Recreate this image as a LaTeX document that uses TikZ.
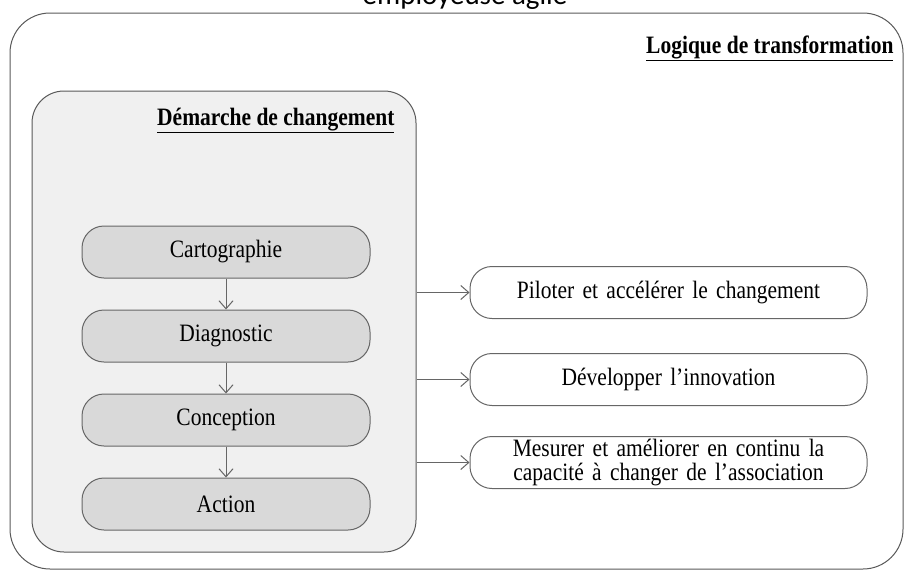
\documentclass[tikz,border=0pt]{standalone}
\usepackage{fontspec}
\setmainfont{Liberation Serif}[FakeStretch=0.86]
\newfontfamily\titrefont{Carlito}
\usetikzlibrary{arrows.meta,calc,positioning}
\pgfdeclarelayer{background}
\pgfsetlayers{background,main}
\newcommand{\taille}{\fontsize{25}{24}\selectfont}
\tikzstyle{cadre}=[draw=black!65, line width=1pt, rounded corners=40pt, inner sep=0pt]
\tikzstyle{etape}=[draw=black!60, fill=black!15, line width=1pt, text centered,
  minimum width=288pt, minimum height=52pt, rounded corners=22pt, inner sep=0pt]
\tikzstyle{objectif}=[etape, fill=white, minimum width=397pt, text width=390pt, align=center]
\tikzstyle{titre}=[anchor=base east, font=\taille\bfseries]
\tikzstyle{line}=[draw, line width=1pt, color=black!60,
  -{Straight Barb[length=8pt,width=14pt]}]
\newcommand{\etape}[2]{node (e#1) [etape] {#2}}

\begin{document}
\begin{tikzpicture}[x=1pt, y=-1pt, font=\taille, node distance=31pt]
  \useasboundingbox (0,0) rectangle (909,570);

  % Titre (coupe en haut)
  \node (titre) [font=\titrefont\fontsize{29}{30}\selectfont, anchor=base] at (465,5) {employeuse agile};

  % Cadres
  \node (transfo) [cadre, minimum width=893pt, minimum height=556pt] at (456.5,291) {};
  \node (demarche) [cadre, fill=black!6, rounded corners=32pt,
    minimum width=384pt, minimum height=461pt] at (224,321.5) {};
  \node (t1) [titre] at (897,53) {\underline{Logique de transformation}};
  \node (t2) [titre] at (398,125) {\underline{Démarche de changement}};

  % Etapes de la demarche
  \path (226,252) \etape{1}{Cartographie};
  \node (e2) [etape, below=of e1] {Diagnostic};
  \node (e3) [etape, below=of e2] {Conception};
  \node (e4) [etape, below=of e3] {Action};

  % Objectifs
  \node (o1) [objectif] at (668.5,292.5) {Piloter et accélérer le changement};
  \node (o2) [objectif, below=34pt of o1] {Développer l’innovation};
  \node (o3) [objectif, below=30pt of o2] {Mesurer et améliorer en continu la\\capacité à changer de l’association};

  % Fleches entre etapes
  \path [line] (e1) -- (e2);
  \path [line] (e2) -- (e3);
  \path [line] (e3) -- (e4);

  % Fleches vers les objectifs
  \path [line] (demarche.east |- o1) -- (o1);
  \path [line] (demarche.east |- o2) -- (o2);
  \path [line] (demarche.east |- o3) -- (o3);

\end{tikzpicture}
\end{document}
